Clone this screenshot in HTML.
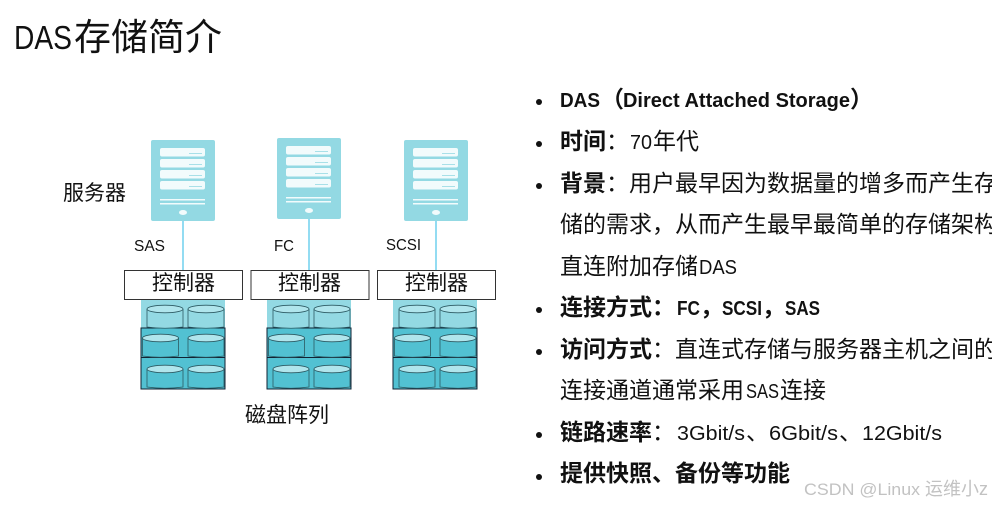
<!DOCTYPE html>
<html><head><meta charset="utf-8">
<style>
html,body{margin:0;padding:0;background:#fff;width:992px;height:507px;overflow:hidden}
svg{display:block}
text{font-family:"Liberation Sans","Noto Sans CJK SC",sans-serif;fill:#111}
.b{font-weight:700}
.t{font-size:23px}
</style></head><body>
<svg width="992" height="507" viewBox="0 0 992 507" xmlns="http://www.w3.org/2000/svg">
<defs>
<g id="srv">
<rect width="64" height="81" rx="2" fill="#93d9e3"/>
<g fill="#f2fbfc"><rect x="9" y="8" width="45" height="8.500" rx="2"/><rect x="9" y="19" width="45" height="8.500" rx="2"/><rect x="9" y="30" width="45" height="8.500" rx="2"/><rect x="9" y="41" width="45" height="8.500" rx="2"/>
<rect x="9" y="59" width="45" height="1.500"/><rect x="9" y="63" width="45" height="1.500"/><ellipse cx="32" cy="72.500" rx="4" ry="2.500"/></g>
<g fill="#a8e0e8"><rect x="38" y="13" width="13" height="1"/><rect x="38" y="24" width="13" height="1"/><rect x="38" y="35" width="13" height="1"/><rect x="38" y="46" width="13" height="1"/></g>
</g>
<g id="cyl">
<path d="M0 4V22Q18 24.500 36 22V4" fill="currentColor" stroke="#2c5a63" stroke-width="0.800"/>
<ellipse cx="18" cy="4" rx="18" ry="3.800" fill="#b0e5ec" stroke="#2c5a63" stroke-width="0.800"/>
</g>
<g id="arr">
<rect x="0" y="0" width="84" height="30" fill="#93d9e3"/>
<rect x="0" y="29" width="84" height="61" fill="#52c1d2" stroke="#123" stroke-width="1"/>
<line x1="0" y1="58.500" x2="84" y2="58.500" stroke="#123" stroke-width="1"/>
<use href="#cyl" x="6" y="6" color="#93d9e3"/>
<use href="#cyl" x="47" y="6" color="#93d9e3"/>
<use href="#cyl" x="1.500" y="35" color="#52c1d2"/>
<use href="#cyl" x="47" y="35" color="#52c1d2"/>
<use href="#cyl" x="6" y="66" color="#52c1d2"/>
<use href="#cyl" x="47" y="66" color="#52c1d2"/>
</g>
</defs>

<text x="14" y="49" font-size="33" textLength="58" lengthAdjust="spacingAndGlyphs">DAS</text>
<text x="74" y="50" font-size="37">存储简介</text>

<use href="#srv" x="151" y="140"/>
<use href="#srv" x="277" y="138"/>
<use href="#srv" x="404" y="140"/>
<g stroke="#6fd0ee" stroke-width="1.500">
<line x1="183" y1="221" x2="183" y2="270"/>
<line x1="309" y1="219" x2="309" y2="270"/>
<line x1="436" y1="221" x2="436" y2="270"/>
</g>
<use href="#arr" x="141" y="299"/>
<use href="#arr" x="267" y="299"/>
<use href="#arr" x="393" y="299"/>
<g fill="#fff" stroke="#333" stroke-width="1">
<rect x="124.500" y="270.500" width="118" height="29"/>
<rect x="251" y="270.500" width="118" height="29"/>
<rect x="377.500" y="270.500" width="118" height="29"/>
</g>
<g font-size="21">
<text x="152" y="290">控制器</text>
<text x="278" y="290">控制器</text>
<text x="405" y="290">控制器</text>
<text x="63" y="200">服务器</text>
<text x="245" y="422">磁盘阵列</text>
</g>
<g font-size="16">
<text x="134" y="251" textLength="31" lengthAdjust="spacingAndGlyphs">SAS</text>
<text x="274" y="251" textLength="20" lengthAdjust="spacingAndGlyphs">FC</text>
<text x="386" y="250" textLength="35" lengthAdjust="spacingAndGlyphs">SCSI</text>
</g>

<g fill="#111">
<circle cx="539" cy="102" r="3"/><circle cx="539" cy="144" r="3"/><circle cx="539" cy="186" r="3"/><circle cx="539" cy="310" r="3"/><circle cx="539" cy="352" r="3"/><circle cx="539" cy="435" r="3"/><circle cx="539" cy="477" r="3"/>
</g>
<g class="t">
<text x="560" y="107" class="b" font-size="20" textLength="40" lengthAdjust="spacingAndGlyphs">DAS</text>
<text x="601" y="107" class="b t">（</text>
<text x="623" y="107" class="b" font-size="20" textLength="227" lengthAdjust="spacingAndGlyphs">Direct Attached Storage</text>
<text x="850" y="107" class="b t">）</text>

<text x="560" y="149" class="t"><tspan class="b">时间</tspan>：</text>
<text x="630" y="149" font-size="20" textLength="22" lengthAdjust="spacingAndGlyphs">70</text>
<text x="653" y="149" class="t">年代</text>

<text x="560" y="191" class="t"><tspan class="b">背景</tspan>：用户最早因为数据量的增多而产生存</text>
<text x="560" y="232" class="t">储的需求，从而产生最早最简单的存储架构</text>
<text x="560" y="274" class="t">直连附加存储</text>
<text x="699" y="274" font-size="20" textLength="38" lengthAdjust="spacingAndGlyphs">DAS</text>

<text x="560" y="315" class="t b">连接方式：</text>
<text x="677" y="315" class="b" font-size="20" textLength="23" lengthAdjust="spacingAndGlyphs">FC</text>
<text x="700" y="315" class="t b">，</text>
<text x="722" y="315" class="b" font-size="20" textLength="40" lengthAdjust="spacingAndGlyphs">SCSI</text>
<text x="762" y="315" class="t b">，</text>
<text x="785" y="315" class="b" font-size="20" textLength="35" lengthAdjust="spacingAndGlyphs">SAS</text>

<text x="560" y="357" class="t"><tspan class="b">访问方式</tspan>：直连式存储与服务器主机之间的</text>
<text x="560" y="398" class="t">连接通道通常采用</text>
<text x="746" y="398" font-size="20" textLength="33" lengthAdjust="spacingAndGlyphs">SAS</text>
<text x="780" y="398" class="t">连接</text>

<text x="560" y="440" class="t"><tspan class="b">链路速率</tspan>：</text>
<text x="677" y="440" font-size="20" textLength="68" lengthAdjust="spacingAndGlyphs">3Gbit/s</text>
<text x="746" y="440" class="t">、</text>
<text x="769" y="440" font-size="20" textLength="69" lengthAdjust="spacingAndGlyphs">6Gbit/s</text>
<text x="839" y="440" class="t">、</text>
<text x="862" y="440" font-size="20" textLength="80" lengthAdjust="spacingAndGlyphs">12Gbit/s</text>

<text x="560" y="481" class="t b">提供快照、备份等功能</text>
</g>
<text x="804" y="495" font-size="17" textLength="116" lengthAdjust="spacingAndGlyphs" style="fill:#c2c2c2">CSDN @Linux</text>
<text x="925" y="495" font-size="18" style="fill:#c2c2c2">运维小z</text>
</svg>
</body></html>
